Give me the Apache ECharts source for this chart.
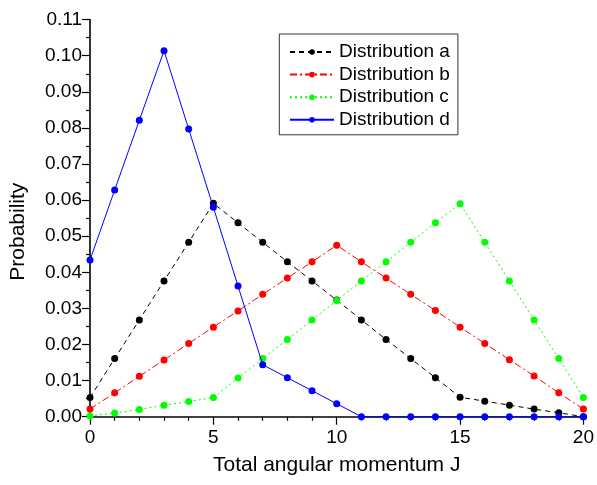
<!DOCTYPE html>
<html>
<head>
<meta charset="utf-8">
<script src="https://cdn.jsdelivr.net/npm/echarts@6/dist/echarts.min.js"></script>
<style>
html,body{margin:0;padding:0;background:#fff;}
#chart{width:597px;height:485px;}
</style>
</head>
<body>
<div id="chart"></div>
<script>
const J = [0,1,2,3,4,5,6,7,8,9,10,11,12,13,14,15,16,17,18,19,20];
const distA = [0.0053,0.0161,0.0268,0.0376,0.0483,0.0591,0.0537,0.0483,0.0429,0.0376,0.0323,0.0268,0.0214,0.0161,0.0108,0.0054,0.0043,0.0032,0.0021,0.0011,0.0000];
const distB = [0.0021,0.0066,0.0112,0.0157,0.0203,0.0248,0.0293,0.0339,0.0384,0.0429,0.0475,0.0429,0.0384,0.0339,0.0294,0.0248,0.0203,0.0158,0.0113,0.0066,0.0021];
const distC = [0.0002,0.0010,0.0020,0.0032,0.0042,0.0053,0.0107,0.0161,0.0214,0.0268,0.0322,0.0376,0.0429,0.0483,0.0537,0.0590,0.0483,0.0376,0.0268,0.0161,0.0053];
const distD = [0.0434,0.0628,0.0821,0.1014,0.0797,0.0580,0.0362,0.0144,0.0108,0.0072,0.0036,0,0,0,0,0,0,0,0,0,0];
const seriesNames = ['Distribution a','Distribution b','Distribution c','Distribution d'];
const xTitle = 'Total angular momentum J';
const yTitle = 'Probability';

const FONT = '"Liberation Sans", Arial, sans-serif';
const pairs = arr => J.map((x,i)=>[x, arr[i]]);

const styles = [
  {color:'#000000', type:[5,4]},
  {color:'#ff0000', type:[7,3,2,3]},
  {color:'#00ff00', type:[2,3]},
  {color:'#0000ff', type:'solid'}
];
const datas = [distA, distB, distC, distD];

const chart = echarts.init(document.getElementById('chart'), null, {renderer:'canvas'});
chart.setOption({
  animation:false,
  backgroundColor:'#fff',
  grid:{left:89.3, right:12, top:19.6, bottom:68.3, containLabel:false},
  legend:{
    orient:'vertical',
    left:279.3, top:34,
    padding:[8,8,5,9.7],
    itemGap:2.6,
    itemWidth:44, itemHeight:7,
    borderColor:'#333', borderWidth:1,
    textStyle:{fontFamily:FONT, fontSize:19, color:'#000', lineHeight:20},
    data:seriesNames
  },
  xAxis:{
    type:'value', min:0, max:20, interval:5,
    name:xTitle, nameLocation:'middle', nameGap:38,
    nameTextStyle:{fontFamily:FONT, fontSize:21, color:'#000'},
    axisLine:{show:true, onZero:false, lineStyle:{color:'#000', width:1.6}},
    axisTick:{show:true, length:8, lineStyle:{color:'#000', width:1.2}},
    minorTick:{show:true, splitNumber:5, length:4, lineStyle:{color:'#000', width:1.2}},
    axisLabel:{fontFamily:FONT, fontSize:19, color:'#000', margin:12},
    splitLine:{show:false}
  },
  yAxis:{
    type:'value', min:0, max:0.11, interval:0.01,
    name:yTitle, nameLocation:'middle', nameGap:61,
    nameTextStyle:{fontFamily:FONT, fontSize:21, color:'#000', padding:[0,27,0,0]},
    axisLine:{show:true, onZero:false, lineStyle:{color:'#000', width:1.6}},
    axisTick:{show:true, length:8, lineStyle:{color:'#000', width:1.2}},
    minorTick:{show:true, splitNumber:2, length:4, lineStyle:{color:'#000', width:1.2}},
    axisLabel:{fontFamily:FONT, fontSize:19, color:'#000', margin:8, formatter:v=>v.toFixed(2)},
    splitLine:{show:false}
  },
  series: seriesNames.map((n,i)=>({
    name:n, type:'line',
    data:pairs(datas[i]),
    symbol:'circle', symbolSize:7,
    showSymbol:true,
    clip:false,
    itemStyle:{color:styles[i].color},
    lineStyle:{color:styles[i].color, width:1, type:styles[i].type},
    z: 2 + (i===3?1:0)
  }))
});
</script>
</body>
</html>
